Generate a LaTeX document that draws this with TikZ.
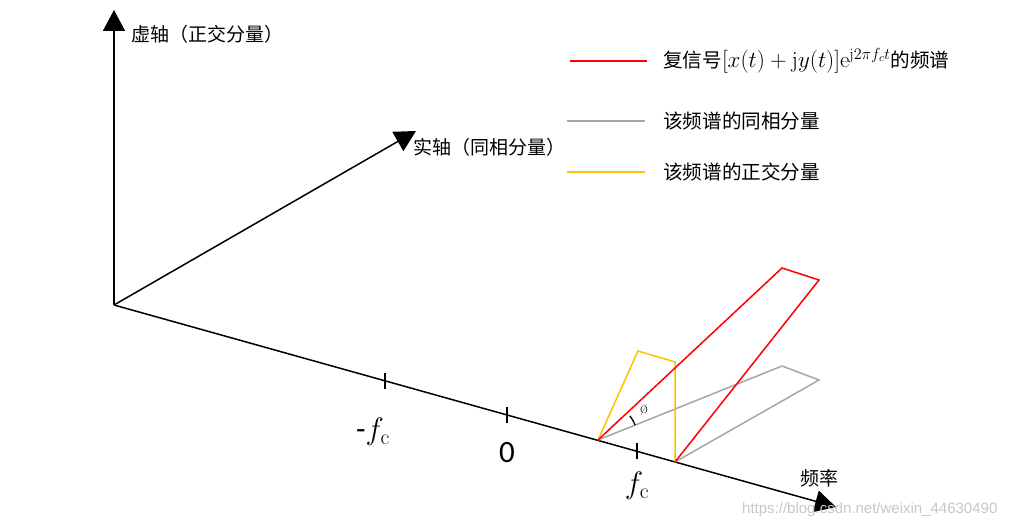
\RequirePackage{fix-cm}
\documentclass[tikz,border=0pt]{standalone}
\usepackage{fontspec}
\newfontfamily\cjk{Noto Sans CJK SC}
\newfontfamily\carl{Carlito}
\newfontfamily\lib{Liberation Sans}
\usetikzlibrary{arrows.meta}
\definecolor{specred}{RGB}{255,0,0}
\definecolor{specgray}{RGB}{166,166,166}
\definecolor{specyel}{RGB}{255,192,0}
\begin{document}
\begin{tikzpicture}[x=1pt,y=-1pt,
  axis/.style={line width=1.5pt,-{Triangle[length=21pt,width=22pt]}},
  tick/.style={line width=1.3pt},
  spec/.style={line width=1.5pt,line join=miter},
  lbl/.style={font=\cjk\fontsize{19}{21}\selectfont,inner sep=0pt,anchor=west},
  leg/.style={font=\cjk\fontsize{19.6}{21}\selectfont,inner sep=0pt,anchor=west},
  big/.style={font=\carl\fontsize{31}{34}\selectfont,inner sep=0pt}]
\useasboundingbox (0,0) rectangle (1023,527);
% axes
\coordinate (O) at (114,305);
\coordinate (Ytip) at (114,10);
\coordinate (Rtip) at (416,131);
\coordinate (Ftip) at (836,507);
\draw[axis] (O) -- (Ytip);
\draw[axis] (O) -- (Rtip);
\draw[axis] (O) -- (Ftip);
% ticks
\coordinate (Tm) at (385,381);
\coordinate (T0) at (507,415);
\coordinate (Tp) at (637,451);
\foreach \t in {Tm,T0,Tp}{\draw[tick] ([yshift=-8pt]\t) -- ([yshift=8pt]\t);}
\node[big] (lm) at (373,432) {-$f_{\mathrm{c}}$};
\node[big] (l0) at (507,453) {0};
\node[big] (lp) at (637,486) {$f_{\mathrm{c}}$};
% axis labels
\node[lbl] (ylab) at (131,34) {虚轴（正交分量）};
\node[lbl] (rlab) at (413,147) {实轴（同相分量）};
\node[lbl] (flab) at (800,478) {频率};
% spectra
\coordinate (A) at (598,440);
\coordinate (B) at (675,462);
\coordinate (R1) at (782,268);
\coordinate (R2) at (819,280);
\coordinate (G1) at (782,366);
\coordinate (G2) at (819,380);
\coordinate (Y1) at (638,351);
\coordinate (Y2) at (675,362);
\draw[spec,specgray] (A) -- (G1) -- (G2) -- (B);
\draw[spec,specyel] (A) -- (Y1) -- (Y2) -- (B);
\draw[spec,specred] (A) -- (R1) -- (R2) -- (B);
\draw[line width=1.3pt] ([shift={(-22:40)}]A) arc[start angle=-22,end angle=-37,radius=40];
\node[font=\fontsize{17}{18}\selectfont,inner sep=0pt] (phi) at (644,410) {\o};
% legend
\coordinate (L1a) at (570,61); \coordinate (L1b) at (647,61);
\coordinate (L2a) at (567,121); \coordinate (L2b) at (645,121);
\coordinate (L3a) at (567,172); \coordinate (L3b) at (645,172);
\draw[spec,specred] (L1a) -- (L1b);
\draw[spec,specgray] (L2a) -- (L2b);
\draw[spec,specyel] (L3a) -- (L3b);
\node[leg] (t1) at (663,61) {复信号{\fontsize{23}{24}\selectfont$[x(t)+\mathrm{j}y(t)]\mathrm{e}^{\mathrm{j}2\pi f_c t}$}的频谱};
\node[leg] (t2) at (663,121) {该频谱的同相分量};
\node[leg] (t3) at (663,172) {该频谱的正交分量};
% watermark
\node[font=\lib\fontsize{15}{16}\selectfont,text=black!22,inner sep=0pt,anchor=west] (wm) at (742,510) {https://blog.csdn.net/weixin\_44630490};
\end{tikzpicture}
\end{document}
